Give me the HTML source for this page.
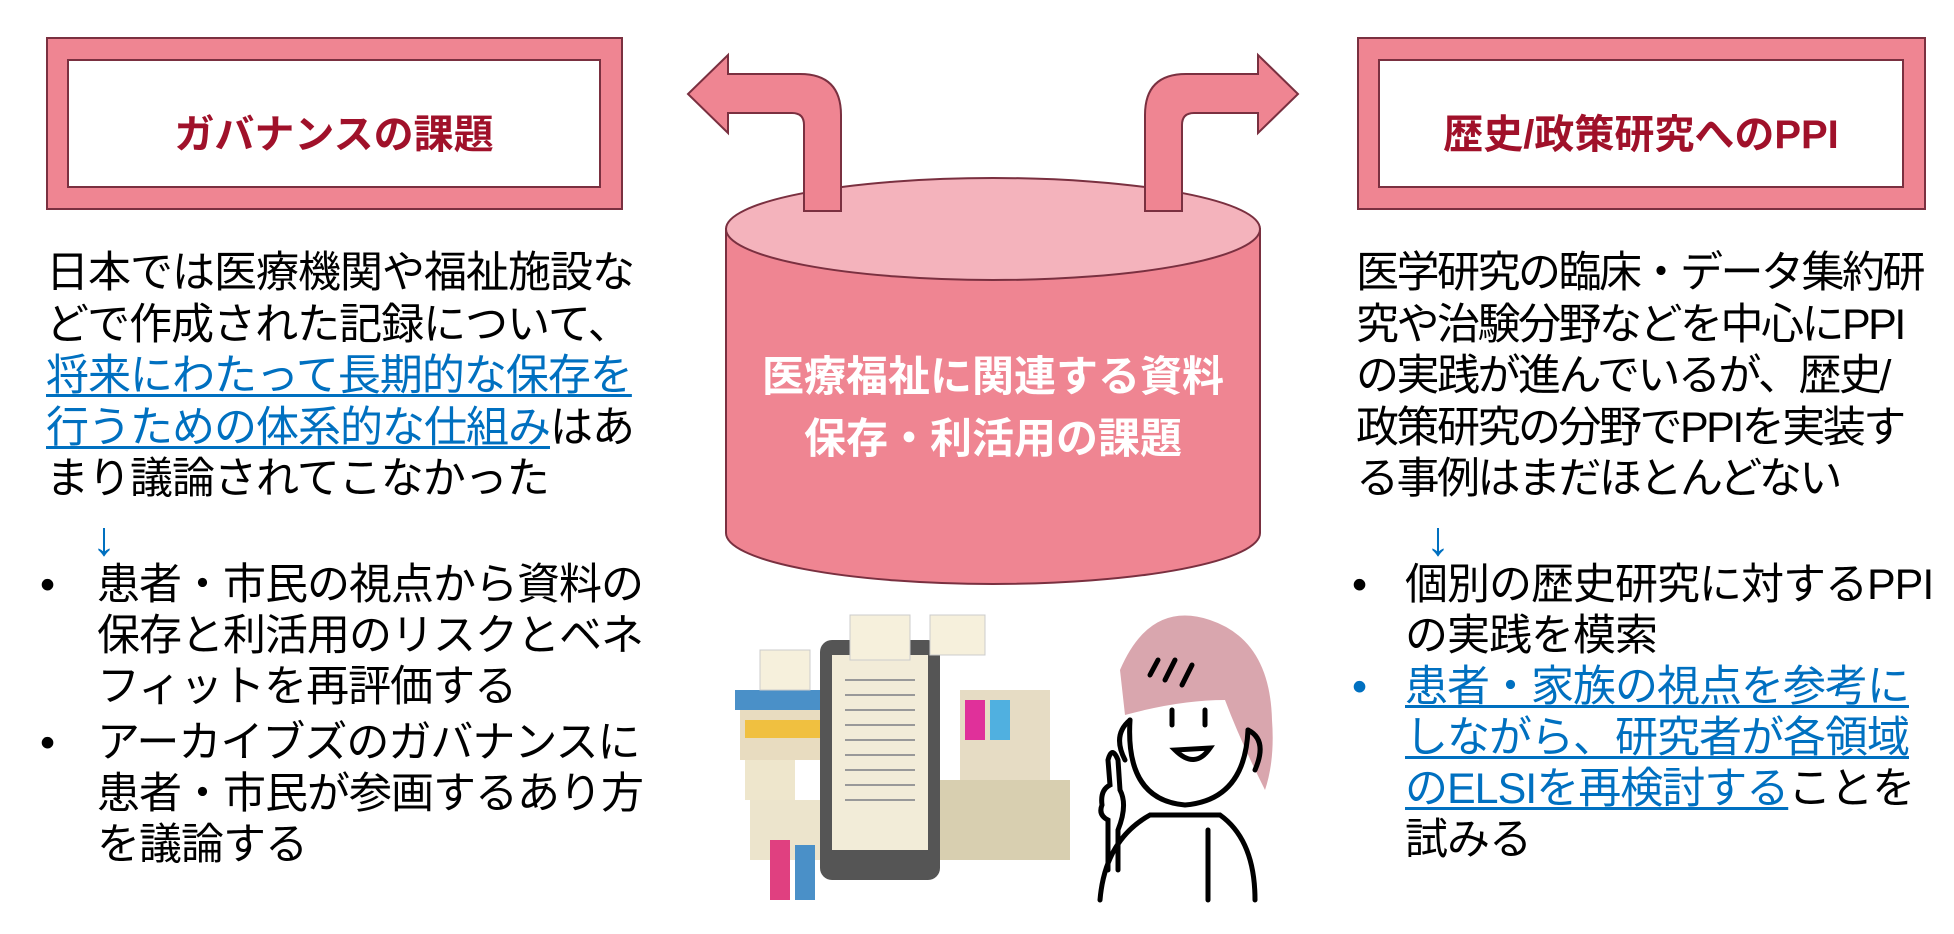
<!DOCTYPE html>
<html><head><meta charset="utf-8"><style>
body{margin:0;width:1954px;height:934px;background:#fff;position:relative;overflow:hidden;font-family:"Liberation Sans","Noto Sans CJK JP",sans-serif;}
.t{position:absolute;font-size:43px;line-height:51.5px;color:#000;white-space:nowrap;letter-spacing:-1px;}
.u{color:#0070c0;text-decoration:underline;text-decoration-thickness:3px;text-underline-offset:4px;}
.ttl{position:absolute;font-weight:bold;color:#a0112a;font-size:40px;text-align:center;}
.b{position:absolute;font-size:43px;line-height:51px;white-space:nowrap;letter-spacing:-1px;}
.ar{position:absolute;font-size:48px;line-height:51px;color:#0070c0;}
</style></head><body>
<svg width="1954" height="934" style="position:absolute;left:0;top:0">
<rect x="47" y="38" width="575" height="171" fill="#ef8592" stroke="#7a3040" stroke-width="2"/>
<rect x="68" y="60" width="532" height="127" fill="#fff" stroke="#7a3040" stroke-width="2"/>
<rect x="1358" y="38" width="567" height="171" fill="#ef8592" stroke="#7a3040" stroke-width="2"/>
<rect x="1379" y="60" width="524" height="127" fill="#fff" stroke="#7a3040" stroke-width="2"/>
<path d="M726 229 L726 533 A267 51 0 0 0 1260 533 L1260 229 Z" fill="#ef8592" stroke="#7a3040" stroke-width="2"/>
<ellipse cx="993" cy="229" rx="267" ry="51" fill="#f4b3bc" stroke="#7a3040" stroke-width="2"/>
<path d="M804 211 L804 125 Q804 113 792 113 L728 113 L728 133 L688 94 L728 55 L728 74 L800 74 Q841 74 841 115 L841 211 Z" fill="#ef8592" stroke="#7a3040" stroke-width="2"/>
<path d="M1182 211 L1182 125 Q1182 113 1194 113 L1258 113 L1258 133 L1298 94 L1258 55 L1258 74 L1186 74 Q1145 74 1145 115 L1145 211 Z" fill="#ef8592" stroke="#7a3040" stroke-width="2"/>
<g>
<rect x="740" y="700" width="120" height="60" fill="#e8dcc0"/>
<rect x="735" y="690" width="130" height="20" fill="#4a90c8"/>
<rect x="745" y="720" width="110" height="18" fill="#f0c040"/>
<rect x="960" y="690" width="90" height="110" fill="#e6dcc4"/>
<rect x="965" y="700" width="20" height="40" fill="#e0309a"/>
<rect x="990" y="700" width="20" height="40" fill="#50b0e0"/>
<rect x="930" y="780" width="140" height="80" fill="#d8cfb0"/>
<rect x="750" y="800" width="90" height="60" fill="#ece4cc"/>
<rect x="770" y="840" width="20" height="60" fill="#e04080"/>
<rect x="795" y="845" width="20" height="55" fill="#4a90c8"/>
<rect x="745" y="760" width="50" height="40" fill="#eee6cc"/>
<rect x="820" y="640" width="120" height="240" rx="12" fill="#555" />
<rect x="832" y="655" width="96" height="195" fill="#f2ecd8"/>
<g stroke="#999" stroke-width="2"><line x1="845" y1="680" x2="915" y2="680"/><line x1="845" y1="695" x2="915" y2="695"/><line x1="845" y1="710" x2="915" y2="710"/><line x1="845" y1="725" x2="915" y2="725"/><line x1="845" y1="740" x2="915" y2="740"/><line x1="845" y1="755" x2="915" y2="755"/><line x1="845" y1="770" x2="915" y2="770"/><line x1="845" y1="785" x2="915" y2="785"/><line x1="845" y1="800" x2="915" y2="800"/></g>
<rect x="850" y="615" width="60" height="45" fill="#f6f0dc" stroke="#ccc"/>
<rect x="760" y="650" width="50" height="40" fill="#f6f0dc" stroke="#ccc"/>
<rect x="930" y="615" width="55" height="40" fill="#f6f0dc" stroke="#ccc"/>
</g>
<g fill="none" stroke="#000" stroke-width="5" stroke-linecap="round">
<path d="M1120 670 Q1150 600 1210 620 Q1270 640 1272 720 Q1275 760 1265 790 Q1240 740 1225 700 Q1180 700 1125 715 Z" fill="#d9a6ae" stroke="none"/>
<path d="M1130 720 Q1125 800 1185 805 Q1245 800 1248 730" />
<path d="M1130 720 Q1112 735 1125 760"/>
<path d="M1248 730 Q1268 740 1255 770"/>
<line x1="1150" y1="675" x2="1158" y2="660"/><line x1="1165" y1="680" x2="1175" y2="660"/><line x1="1182" y1="685" x2="1192" y2="665"/>
<line x1="1172" y1="710" x2="1172" y2="725"/><line x1="1205" y1="710" x2="1205" y2="725"/>
<path d="M1175 750 Q1195 770 1210 748 Z"/>
<path d="M1100 900 Q1105 840 1150 815 L1220 815 Q1255 840 1255 900"/>
<path d="M1108 870 L1108 820 Q1098 815 1102 805 Q1100 790 1110 785 L1108 760 Q1112 745 1118 760 L1120 790 Q1128 805 1118 830 L1118 870"/>
<line x1="1208" y1="830" x2="1208" y2="900"/>
</g>
</svg>
<div class="ttl" style="left:68px;top:102px;width:532px;">ガバナンスの課題</div>
<div class="ttl" style="left:1379px;top:102px;width:524px;">歴史/政策研究へのPPI</div>
<div style="position:absolute;left:726px;top:346px;width:534px;text-align:center;color:#fff;font-weight:bold;font-size:42px;line-height:62px;">医療福祉に関連する資料<br>保存・利活用の課題</div>

<div class="t" style="left:46px;top:248px;">日本では医療機関や福祉施設な<br>どで作成された記録について、<br><span class="u">将来にわたって長期的な保存を</span><br><span class="u">行うための体系的な仕組み</span>はあ<br>まり議論されてこなかった</div>
<div class="ar" style="left:92px;top:514px;">↓</div>
<div class="b" style="left:40px;top:560px;">•</div>
<div class="b" style="left:97px;top:560px;">患者・市民の視点から資料の<br>保存と利活用のリスクとベネ<br>フィットを再評価する</div>
<div class="b" style="left:40px;top:718px;">•</div>
<div class="b" style="left:97px;top:718px;">アーカイブズのガバナンスに<br>患者・市民が参画するあり方<br>を議論する</div>

<div class="t" style="left:1356px;top:248px;letter-spacing:-2.5px;">医学研究の臨床・データ集約研<br>究や治験分野などを中心にPPI<br>の実践が進んでいるが、歴史/<br>政策研究の分野でPPIを実装す<br>る事例はまだほとんどない</div>
<div class="ar" style="left:1426px;top:514px;">↓</div>
<div class="b" style="left:1352px;top:560px;">•</div>
<div class="b" style="left:1405px;top:560px;">個別の歴史研究に対するPPI<br>の実践を模索</div>
<div class="b" style="left:1352px;top:662px;color:#0070c0;">•</div>
<div class="b" style="left:1405px;top:662px;"><span class="u">患者・家族の視点を参考に</span><br><span class="u">しながら、研究者が各領域</span><br><span class="u">のELSIを再検討する</span>ことを<br>試みる</div>
</body></html>
